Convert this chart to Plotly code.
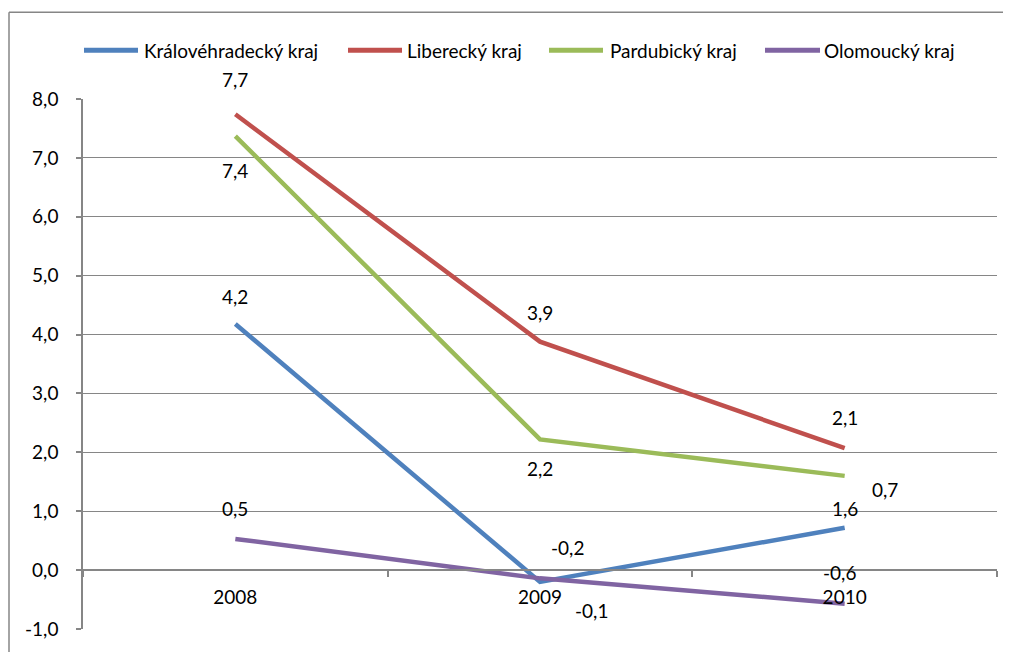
import plotly.graph_objects as go

years = ["2008", "2009", "2010"]
kralovehradecky = [4.18, -0.20, 0.72]
liberecky = [7.74, 3.88, 2.07]
pardubicky = [7.37, 2.22, 1.60]
olomoucky = [0.53, -0.14, -0.57]

series_names = ["Královéhradecký kraj", "Liberecký kraj", "Pardubický kraj", "Olomoucký kraj"]
series_values = [kralovehradecky, liberecky, pardubicky, olomoucky]
colors = ["#4F81BD", "#C0504D", "#9BBB59", "#8064A2"]

y_ticks = [-1, 0, 1, 2, 3, 4, 5, 6, 7, 8]

# label offsets (pixels) per series per point
label_shifts = [
    [(0, 27), (27, 34), (40, 38)],
    [(0, 35), (0, 29), (0, 31)],
    [(0, -34), (0, -29), (0, -33)],
    [(0, 30), (51, -32), (-5, 31)],
]

# legend layout (page pixels): line start, line end, text start
legend_pos = [(84, 138, 142), (348, 402, 405), (549, 603, 608), (765, 820, 822)]
LEGEND_Y = 50

FONT = "Lato, 'Open Sans', sans-serif"
FS = 19
GRAY = "#868686"
OFF = 8  # browser body margin

fig = go.Figure()
for name, vals, col in zip(series_names, series_values, colors):
    fig.add_trace(go.Scatter(x=years, y=vals, mode="lines", name=name,
                             line=dict(color=col, width=4.5)))

def fmt(v):
    return f"{v:.1f}".replace(".", ",")

annotations = []
for vals, shifts in zip(series_values, label_shifts):
    for i, (v, (dx, dy)) in enumerate(zip(vals, shifts)):
        annotations.append(dict(x=i, y=v, xref="x", yref="y", text=fmt(v), showarrow=False,
                                xshift=dx, yshift=dy,
                                font=dict(family=FONT, size=FS, color="#000")))

# geometry in page pixels
W, H = 1011 - OFF, 652 - OFF
left, right, top, bottom = 83, 997, 99, 631
pw, ph = right - left, bottom - top

def px_x(p):
    return (p - left) / pw

def px_y(p):
    return (bottom - p) / ph

shapes = [
    dict(type="line", xref="paper", yref="paper", x0=px_x(9), x1=px_x(1030),
         y0=px_y(12), y1=px_y(12), line=dict(color=GRAY, width=1.5)),
    dict(type="line", xref="paper", yref="paper", x0=px_x(9), x1=px_x(9),
         y0=px_y(12), y1=px_y(680), line=dict(color=GRAY, width=1.5)),
]

for name, col, (x0, x1, tx) in zip(series_names, colors, legend_pos):
    shapes.append(dict(type="line", xref="paper", yref="paper",
                       x0=px_x(x0), x1=px_x(x1), y0=px_y(LEGEND_Y), y1=px_y(LEGEND_Y),
                       line=dict(color=col, width=5)))
    annotations.append(dict(x=px_x(tx), y=px_y(LEGEND_Y), xref="paper", yref="paper",
                            xanchor="left", yanchor="middle", text=name, showarrow=False,
                            font=dict(family=FONT, size=FS, color="#000")))

fig.update_layout(
    width=W, height=H,
    margin=dict(l=left - OFF, r=(1011 - right), t=top - OFF, b=(652 - bottom)),
    paper_bgcolor="white", plot_bgcolor="white",
    font=dict(family=FONT, size=FS, color="#000"),
    showlegend=False,
    xaxis=dict(type="category", range=[-0.5, 2.5], anchor="free", position=1 / 9,
               showline=True, linecolor=GRAY, linewidth=1.5, showgrid=False,
               ticks="outside", tickson="boundaries", ticklen=6, tickcolor=GRAY,
               tickwidth=1.5, ticklabelstandoff=10,
               tickfont=dict(family=FONT, size=FS, color="#000")),
    yaxis=dict(range=[-1, 8], tickvals=y_ticks,
               ticktext=[fmt(v) if v >= 0 else "-" + fmt(-v) for v in y_ticks],
               showline=True, linecolor=GRAY, linewidth=1.5,
               showgrid=True, gridcolor=GRAY, gridwidth=1.2, zeroline=False,
               ticks="outside", ticklen=5, tickcolor=GRAY, tickwidth=1.5,
               ticklabelstandoff=14,
               tickfont=dict(family=FONT, size=FS, color="#000")),
    annotations=annotations,
    shapes=shapes,
)

fig.write_html("out.html")
